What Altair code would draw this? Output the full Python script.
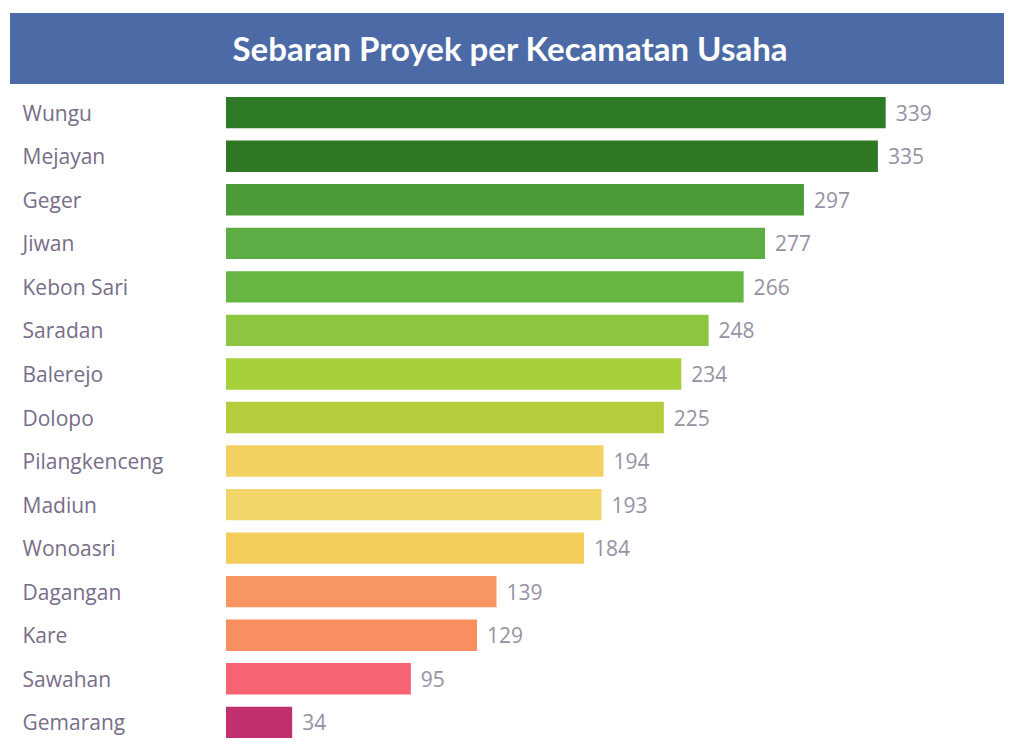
import altair as alt
import pandas as pd

judul = "Sebaran Proyek per Kecamatan Usaha"
kecamatan = ["Wungu", "Mejayan", "Geger", "Jiwan", "Kebon Sari", "Saradan",
             "Balerejo", "Dolopo", "Pilangkenceng", "Madiun", "Wonoasri",
             "Dagangan", "Kare", "Sawahan", "Gemarang"]
jumlah = [339, 335, 297, 277, 266, 248, 234, 225, 194, 193, 184, 139, 129, 95, 34]
warna = ["#2f7a26", "#2e7824", "#4c9c38", "#5cad43", "#67b543", "#8cc53f",
         "#a6cf3c", "#b4cd3d", "#f3d062", "#f3d669", "#f3cd5c", "#f99560",
         "#f98e60", "#f66473", "#c0306e"]

df = pd.DataFrame({"kecamatan": kecamatan, "jumlah": jumlah})
header_df = pd.DataFrame({"judul": [judul]})

W, H = 720, 641

y_enc = alt.Y(
    "kecamatan:N", sort=kecamatan,
    scale=alt.Scale(paddingInner=0.28, paddingOuter=0),
    axis=alt.Axis(title=None, domain=False, ticks=False, tickSize=0,
                  labelAlign="left", labelPadding=204, labelFontSize=21,
                  labelColor="#776d88", labelFont="Open Sans", labelLimit=300,
                  labelBaseline="middle", labelOffset=2),
)
x_enc = alt.X("jumlah:Q", scale=alt.Scale(domain=[0, 370]), axis=None)

base = alt.Chart(df)
bars = base.mark_bar().encode(
    y=y_enc, x=x_enc,
    color=alt.Color("kecamatan:N", scale=alt.Scale(domain=kecamatan, range=warna), legend=None),
)
labels = base.mark_text(align="left", baseline="middle", dx=10, dy=2, fontSize=21,
                        color="#9692a4", font="Open Sans").encode(
    y=y_enc, x=x_enc, text="jumlah:Q"
)

header = alt.Chart(header_df).mark_rect(color="#4b6aa6").encode(
    x=alt.value(-216), x2=alt.value(778), y=alt.value(-84), y2=alt.value(-13)
)
header_text = alt.Chart(header_df).mark_text(
    font="Lato", fontWeight="bold", fontSize=33, color="white",
    align="center", baseline="middle"
).encode(x=alt.value(284), y=alt.value(-46), text="judul:N")

chart = alt.layer(header, header_text, bars, labels).properties(
    width=W, height=H,
    padding={"left": 2, "top": 5, "right": 0, "bottom": 0},
).configure_view(stroke=None)

chart.save("out.html", embed_options={"renderer": "svg", "actions": False})
